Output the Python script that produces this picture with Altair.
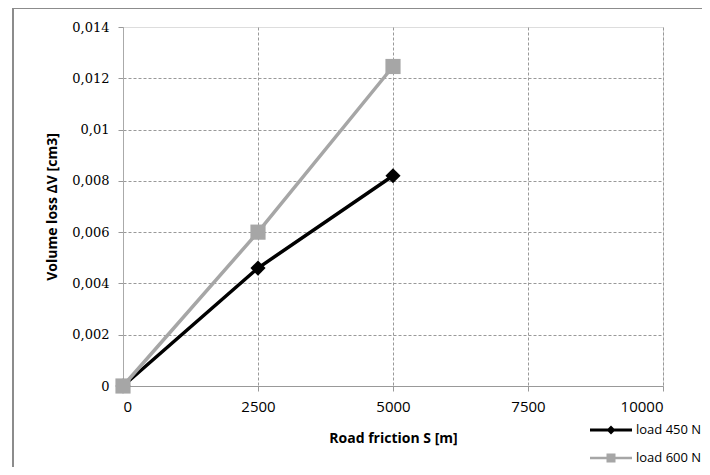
import altair as alt
import pandas as pd

# ---- data ----
distance = [0, 2500, 5000]
load_450 = [0, 0.0046, 0.0082]
load_600 = [0, 0.006, 0.01246]
series_names = ["load 450 N", "load 600 N"]
series_colors = ["#000000", "#a6a6a6"]
marker_shapes = ["diamond", "square"]
x_ticks = [0, 2500, 5000, 7500, 10000]
y_ticks = [0, 0.002, 0.004, 0.006, 0.008, 0.01, 0.012, 0.014]

rows = []
for name, vals in zip(series_names, [load_450, load_600]):
    for d, v in zip(distance, vals):
        rows.append({"S": d, "V": v, "series": name})
df = pd.DataFrame(rows)

# legend symbols: line with marker (custom SVG paths)
legend_paths = [
    "M-3.2,-0.16H1V0.16H-3.2Z M-1.1,-0.45L-0.65,0L-1.1,0.45L-1.55,0Z",
    "M-3.2,-0.12H1V0.12H-3.2Z M-1.55,-0.45H-0.65V0.45H-1.55Z",
]

x_enc = alt.X(
    "S:Q",
    scale=alt.Scale(domain=[0, 10000], nice=False),
    axis=alt.Axis(
        values=x_ticks,
        labelExpr="toString(datum.value)",
        title="Road friction S [m]",
        titleFont="Open Sans",
        titleFontSize=14,
        titleFontWeight="bold",
        titleColor="#000",
        titlePadding=17,
        labelFont="Open Sans",
        labelFontSize=15,
        labelColor="#000",
        labelPadding=8,
        tickSize=5,
        tickColor="#999",
        domainColor="#999",
        gridColor="#999",
        gridDash=[3, 2],
    ),
)
y_enc = alt.Y(
    "V:Q",
    scale=alt.Scale(domain=[0, 0.014], nice=False),
    axis=alt.Axis(
        values=y_ticks,
        labelExpr="replace(toString(datum.value), '.', ',')",
        title="Volume loss ΔV [cm3]",
        titleFont="Open Sans",
        titleFontSize=14,
        titleFontWeight="bold",
        titleColor="#000",
        titlePadding=12,
        labelFont="DejaVu Serif",
        labelFontSize=13,
        labelColor="#000",
        labelPadding=9,
        tickSize=5,
        tickColor="#999",
        domainColor="#aaa",
        gridColor="#999",
        gridDash=[3, 2],
        gridOpacity={"condition": {"test": "datum.value >= 0.0139", "value": 0}, "value": 1},
    ),
)
color_noleg = alt.Color(
    "series:N",
    scale=alt.Scale(domain=series_names, range=series_colors),
    legend=None,
)

lines = alt.Chart(df).mark_line(strokeWidth=3.5).encode(
    x=x_enc, y=y_enc, color=color_noleg, detail="series:N"
)

points = alt.Chart(df).mark_point(filled=True, opacity=1, size=230).encode(
    x="S:Q",
    y="V:Q",
    color=color_noleg,
    shape=alt.Shape(
        "series:N",
        scale=alt.Scale(domain=series_names, range=marker_shapes),
        legend=None,
    ),
)

legend_props = dict(
    title=None,
    orient="none",
    legendX=489,
    legendY=393,
    padding=0,
    symbolSize=400,
    symbolStrokeWidth=0,
    symbolOpacity=1,
    labelFont="Open Sans",
    labelFontSize=13,
    labelColor="#000",
    labelOffset=4,
    rowPadding=11,
)

legend_layer = alt.Chart(df).transform_filter("false").mark_point(
    filled=True, opacity=1
).encode(
    x="S:Q",
    y="V:Q",
    color=alt.Color(
        "series:N",
        scale=alt.Scale(domain=series_names, range=series_colors),
        legend=alt.Legend(**legend_props),
    ),
    shape=alt.Shape(
        "series:N",
        scale=alt.Scale(domain=series_names, range=legend_paths),
        legend=alt.Legend(**legend_props),
    ),
)

border = alt.Chart(pd.DataFrame({"a": [0]})).mark_rect(
    fillOpacity=0, stroke="#8c8c8c", strokeWidth=2
).encode(
    x=alt.value(-110), x2=alt.value(700), y=alt.value(-19), y2=alt.value(600)
)

chart = alt.layer(border, lines, points, legend_layer).resolve_scale(
    shape="independent", color="independent"
).properties(
    width=540,
    height=359,
    autosize=alt.AutoSizeParams(type="none"),
    padding={"left": 115, "top": 19, "right": 39, "bottom": 81},
).configure_view(stroke=None).configure(background="white")

chart.save("out.html", embed_options={"renderer": "svg", "actions": False})
